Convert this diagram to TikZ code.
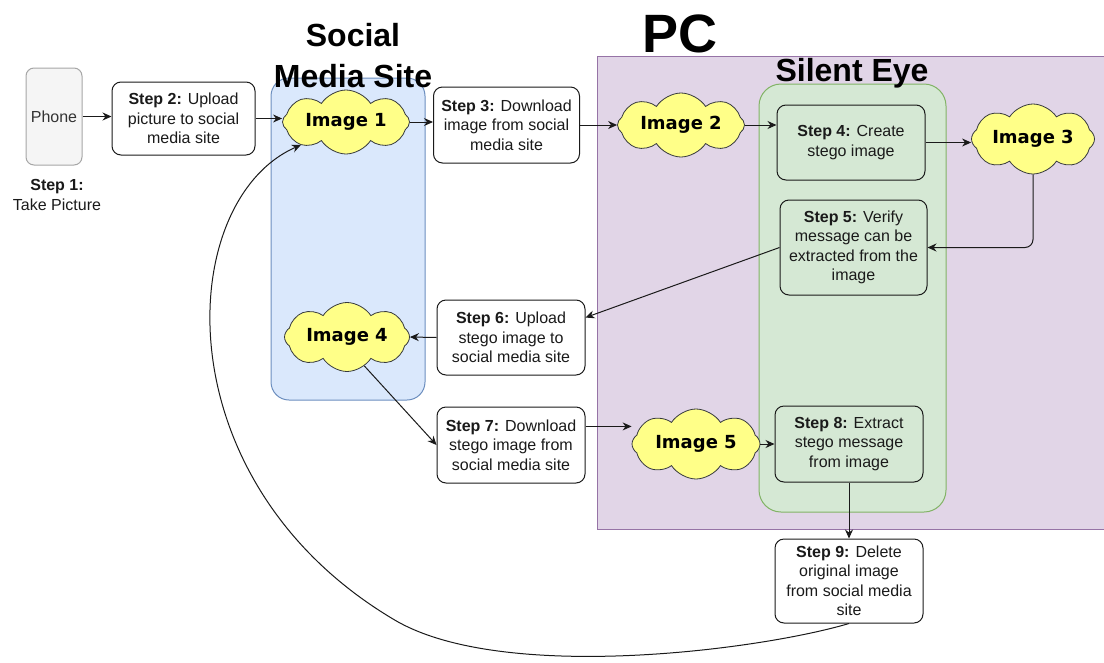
\documentclass[tikz,border=0pt]{standalone}
\usepackage{fontspec}
\setmainfont{Liberation Sans}
\newfontfamily\cloudfam{DejaVu Sans}
\usetikzlibrary{shapes.symbols,arrows.meta}
\definecolor{blueF}{HTML}{DAE8FC}
\definecolor{blueD}{HTML}{6C8EBF}
\definecolor{purpF}{HTML}{E1D5E7}
\definecolor{purpD}{HTML}{9673A6}
\definecolor{greenF}{HTML}{D5E8D4}
\definecolor{greenD}{HTML}{82B366}
\definecolor{cloudF}{HTML}{FFFF88}
\definecolor{cloudD}{HTML}{36393D}
\definecolor{phoneF}{HTML}{F5F5F5}
\definecolor{phoneD}{HTML}{A6A6A6}
\definecolor{phoneT}{HTML}{333333}
\definecolor{txt}{HTML}{1A1A1A}
\newcommand\stpfont{\fontsize{16}{19.5}\selectfont}
\newcommand\cldfont{\cloudfam\bfseries\fontsize{18}{21}\selectfont}
\newcommand\ttlfont{\bfseries\fontsize{32}{41}\selectfont}
\newcommand\bigttlfont{\bfseries\fontsize{54}{60}\selectfont}
\tikzset{
  stepbox/.style={draw=txt, rounded corners=9pt, line width=1pt, fill=white, align=center, font=\stpfont, text=txt, inner sep=2pt},
  greenbox/.style={stepbox, fill=greenF},
  imgcloud/.style={cloud, cloud puffs=8, cloud puff arc=115, cloud ignores aspect, draw=cloudD, fill=cloudF, line width=0.8pt, font=\cldfont, inner sep=0pt},
  conn/.style={-{Stealth[length=9pt,width=8pt]}, line width=1pt, draw=txt},
  container/.style={line width=1pt, inner sep=0pt}
}
\begin{document}
\begin{tikzpicture}[x=1pt,y=-1pt]
\useasboundingbox (0,0) rectangle (1104,662);
% containers
\node[container, draw=purpD, fill=purpF, minimum width=513pt, minimum height=473pt] (pc) at (853.5,292.5) {};
\node[container, draw=greenD, fill=greenF, rounded corners=22pt, minimum width=187pt, minimum height=428pt] (silent) at (852.5,298) {};
\node[container, draw=blueD, fill=blueF, rounded corners=18pt, minimum width=154pt, minimum height=322pt] (social) at (348,239) {};
% titles
\node[font=\ttlfont, align=center, text=black] (socialT) at (353,56) {Social\\Media Site};
\node[font=\bigttlfont, anchor=base, text=black] (pcT) at (680,52) {PC};
\node[font=\ttlfont, anchor=base, text=black] (silentT) at (852,81) {Silent Eye};
% phone
\node[draw=phoneD, fill=phoneF, rounded corners=8pt, line width=1pt, minimum width=56pt, minimum height=97pt, font=\stpfont, text=phoneT] (phone) at (54,116.5) {Phone};
\node[font=\stpfont, align=center, text=txt] (step1) at (57,195) {\textbf{Step 1:}\\Take Picture};
% step boxes
\node[stepbox, minimum width=143pt, minimum height=73pt] (step2) at (183.5,118.5) {\textbf{Step 2:} Upload\\picture to social\\media site};
\node[stepbox, minimum width=146pt, minimum height=76pt] (step3) at (506.5,125) {\textbf{Step 3:} Download\\image from social\\media site};
\node[greenbox, minimum width=148pt, minimum height=75pt] (step4) at (851,142.5) {\textbf{Step 4:} Create\\stego image};
\node[greenbox, minimum width=147pt, minimum height=95pt] (step5) at (853.5,247.5) {\textbf{Step 5:} Verify\\message can be\\extracted from the\\image};
\node[stepbox, minimum width=148pt, minimum height=75pt] (step6) at (511,337.5) {\textbf{Step 6:} Upload\\stego image to\\social media site};
\node[stepbox, minimum width=148pt, minimum height=76pt] (step7) at (511,445) {\textbf{Step 7:} Download\\stego image from\\social media site};
\node[greenbox, minimum width=148pt, minimum height=76pt] (step8) at (849,444) {\textbf{Step 8:} Extract\\stego message\\from image};
\node[stepbox, minimum width=148pt, minimum height=84pt] (step9) at (849,581) {\textbf{Step 9:} Delete\\original image\\from social media\\site};
% clouds
\node[imgcloud, minimum width=127pt, minimum height=64pt] (img1) at (346,122) {Image 1};
\node[imgcloud, minimum width=127pt, minimum height=64pt] (img2) at (681,125) {Image 2};
\node[imgcloud, minimum width=123pt, minimum height=70pt] (img3) at (1033,139) {Image 3};
\node[imgcloud, minimum width=125pt, minimum height=69pt] (img4) at (347,337) {Image 4};
\node[imgcloud, minimum width=128pt, minimum height=70pt] (img5) at (696,444) {Image 5};
% connectors
\draw[conn] (phone.east) -- (phone.east -| step2.west);
\draw[conn] (step2.east) -- (step2.east -| img1.west);
\draw[conn] (img1.east) -- (img1.east -| step3.west);
\draw[conn] (step3.east) -- (step3.east -| img2.west);
\draw[conn] (img2.east) -- (img2.east -| step4.west);
\draw[conn] (step4.east) -- (step4.east -| img3.west);
\draw[conn, rounded corners=8pt] (img3.south) |- (step5.east);
\draw[conn] (step5.west) -- (step6.15);
\draw[conn] (step6.west) -- (img4.east);
\draw[conn] (img4.-59) -- (step7.west);
\draw[conn] (step7.14) -- (step7.14 -| img5.west);
\draw[conn] (img5.east) -- (step8.west);
\draw[conn] (step8.south) -- (step9.north);
\draw[conn] (step9.south) .. controls (760,650) and (500,684) .. (393,619) .. controls (160,480) and (175,200) .. (img1.207);
\end{tikzpicture}
\end{document}
